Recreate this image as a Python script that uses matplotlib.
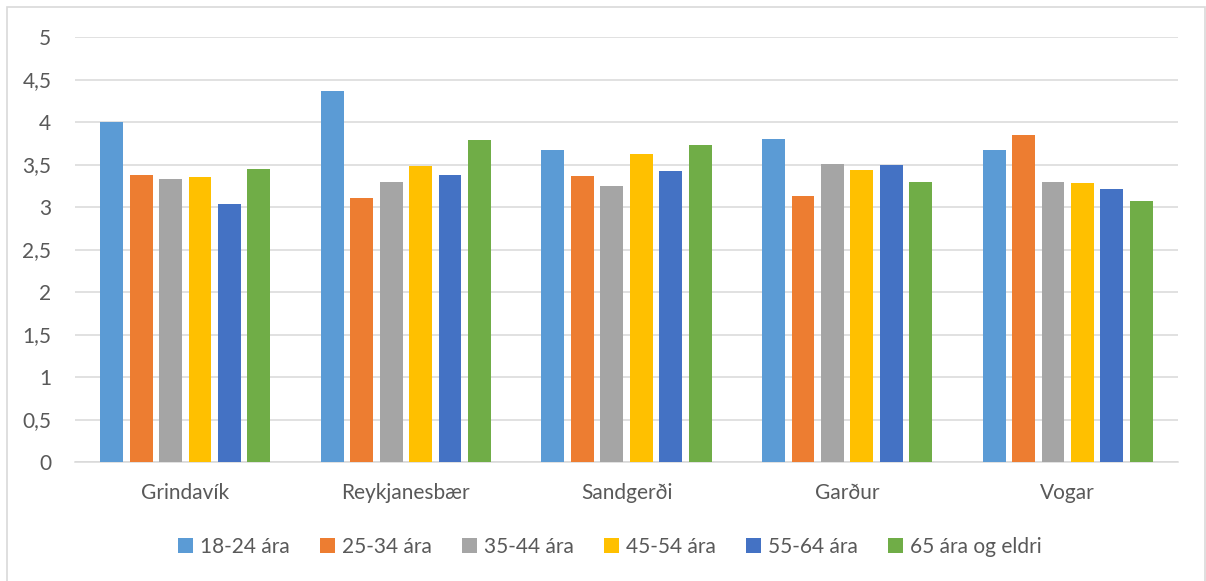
import matplotlib.pyplot as plt
import numpy as np
from matplotlib.patches import Rectangle

# Gögnin
stadir = ['Grindavík', 'Reykjanesbær', 'Sandgerði', 'Garður', 'Vogar']
aldur = ['18-24 ára', '25-34 ára', '35-44 ára', '45-54 ára', '55-64 ára', '65 ára og eldri']
a18_24 = [4.00, 4.37, 3.67, 3.80, 3.67]
a25_34 = [3.38, 3.11, 3.36, 3.13, 3.85]
a35_44 = [3.33, 3.29, 3.25, 3.51, 3.29]
a45_54 = [3.35, 3.48, 3.62, 3.44, 3.28]
a55_64 = [3.04, 3.38, 3.42, 3.50, 3.21]
a65 = [3.45, 3.79, 3.73, 3.29, 3.07]
rodir = [a18_24, a25_34, a35_44, a45_54, a55_64, a65]
litir = ['#5B9BD5', '#ED7D31', '#A5A5A5', '#FFC000', '#4472C4', '#70AD47']

plt.rcParams['font.family'] = ['Lato', 'DejaVu Sans']
grar = '#595959'

fig = plt.figure(figsize=(12.06, 5.81), dpi=100)
ax = fig.add_axes([75 / 1206, 1 - 462 / 581, (1178 - 75) / 1206, (462 - 37) / 581])

# Rammi utan um grafið
fig.patches.append(Rectangle((7 / 1206, -0.05), (1205 - 7) / 1206, 1 - 7.5 / 581 + 0.05,
                             transform=fig.transFigure, fill=False,
                             edgecolor='#D9D9D9', linewidth=1.2))

x = np.arange(len(stadir))
bil = 0.8 / 6
for i, (r, lit, nafn) in enumerate(zip(rodir, litir, aldur)):
    ax.bar(x - 0.4 + bil * (i + 0.5), r, width=0.104, color=lit, label=nafn, zorder=3)

ax.set_xlim(-0.5, len(stadir) - 0.5)
ax.set_ylim(0, 5)
ax.set_yticks(np.arange(0, 5.01, 0.5))
ax.set_yticklabels([f'{v:g}'.replace('.', ',') for v in np.arange(0, 5.01, 0.5)])
ax.set_xticks(x)
ax.set_xticklabels(stadir)
ax.grid(axis='y', color='#D9D9D9', linewidth=1.1, zorder=0)
for s in ['top', 'right', 'left']:
    ax.spines[s].set_visible(False)
ax.spines['bottom'].set_color('#D9D9D9')
ax.spines['bottom'].set_linewidth(1.1)
ax.tick_params(axis='both', length=0, colors=grar, labelsize=15)
ax.tick_params(axis='x', pad=15)
ax.tick_params(axis='y', pad=17)

fig.legend(loc='center', bbox_to_anchor=(610 / 1206, 1 - 547 / 581), ncol=6,
           frameon=False, fontsize=15, labelcolor=grar, handlelength=0.7,
           handleheight=0.7, handletextpad=0.35, columnspacing=1.45)

fig.savefig('out.png', dpi=100)
